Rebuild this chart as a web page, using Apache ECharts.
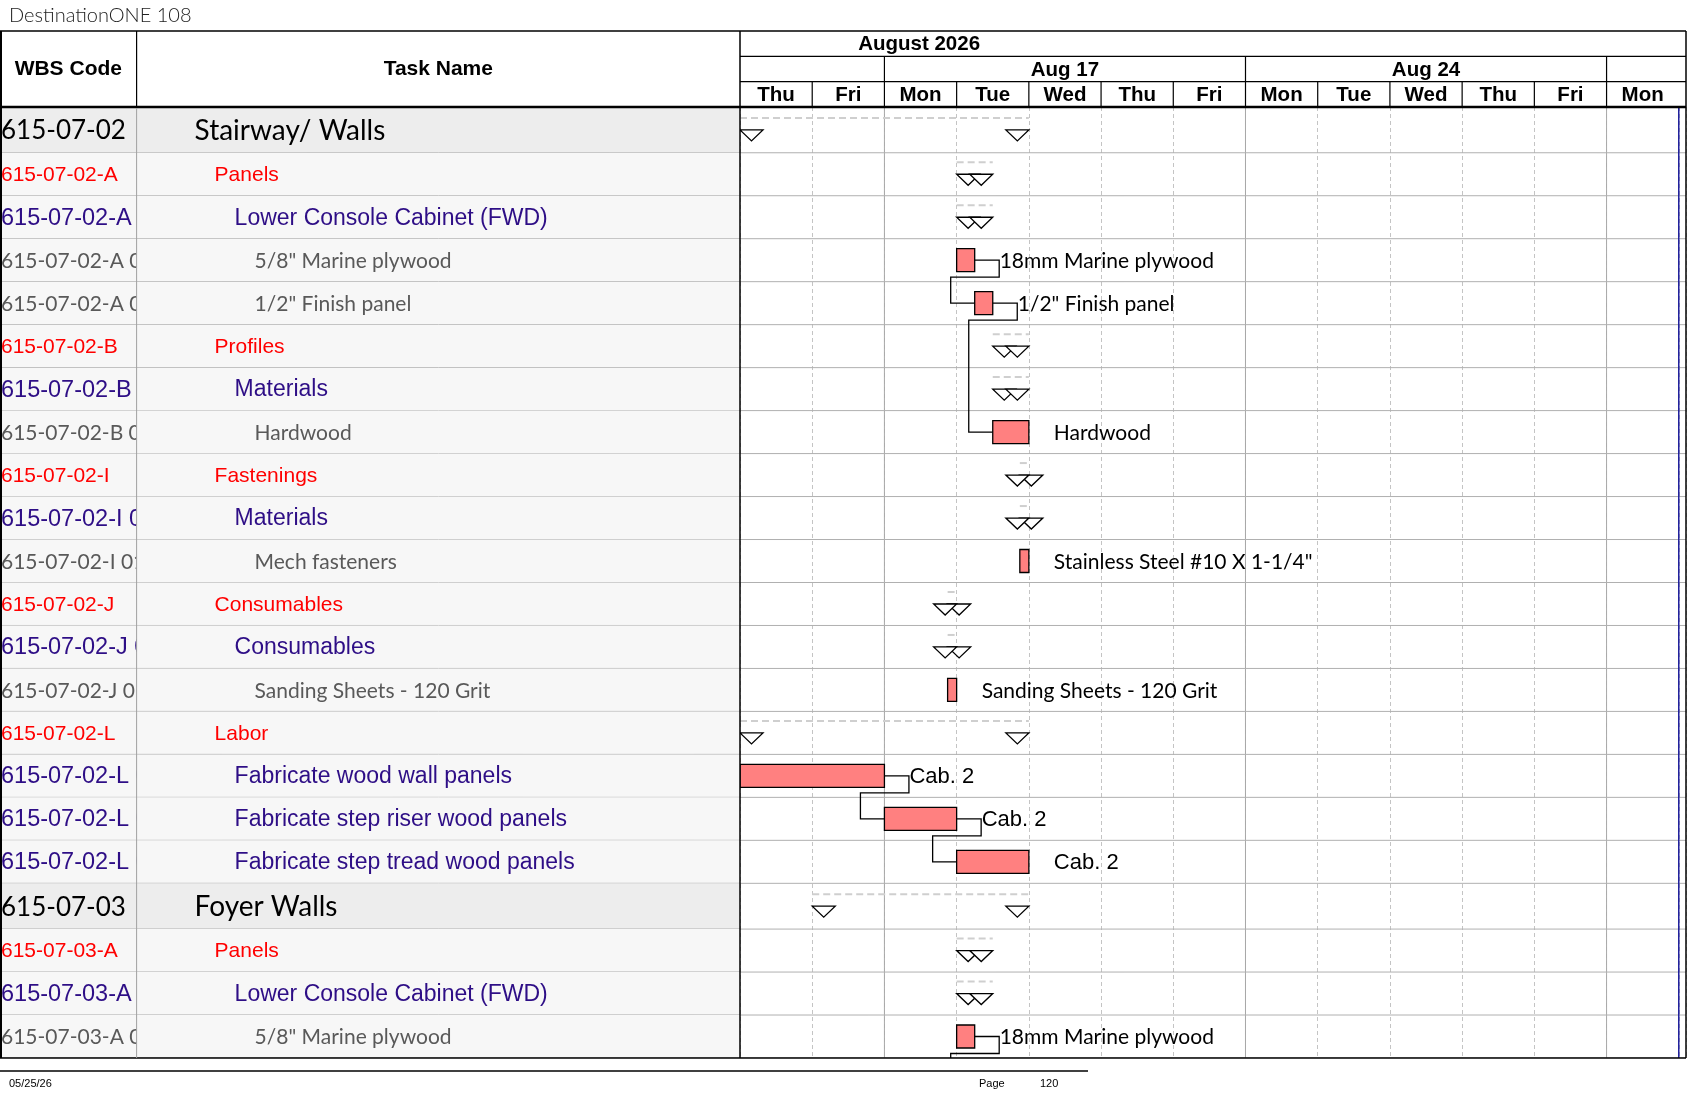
<!DOCTYPE html>
<html>
<head>
<meta charset="utf-8">
<title>DestinationONE 108</title>
<script src="https://cdn.jsdelivr.net/npm/echarts@6/dist/echarts.min.js"></script>
<style>
    html, body { margin: 0; padding: 0; background: #fff; }
    #chart { width: 1687px; height: 1097px; }
</style>
</head>
<body>
<div id="chart"></div>
<script>
//时间轴：只显示工作日，Thu Aug 13 2026 -> Mon Aug 31 2026
var dayNames = ['Thu', 'Fri', 'Mon', 'Tue', 'Wed', 'Thu', 'Fri', 'Mon', 'Tue', 'Wed', 'Thu', 'Fri', 'Mon'];
var weekStarts = [-3, 2, 7, 12];
var weekLabels = ['Aug 10', 'Aug 17', 'Aug 24', 'Aug 31'];
var monthLabel = 'August 2026';
var monthCenter = 2.48;
var lastDay = 13.1;
var statusDay = 13;

//任务行（最后一行属于下一页）
var wbsCodes = [
    '615-07-02', '615-07-02-A', '615-07-02-A 01', '615-07-02-A 01 01', '615-07-02-A 01 02',
    '615-07-02-B', '615-07-02-B 01', '615-07-02-B 01 01',
    '615-07-02-I', '615-07-02-I 01', '615-07-02-I 01 01',
    '615-07-02-J', '615-07-02-J 01', '615-07-02-J 01 01',
    '615-07-02-L', '615-07-02-L 01', '615-07-02-L 02', '615-07-02-L 03',
    '615-07-03', '615-07-03-A', '615-07-03-A 01', '615-07-03-A 01 01', '615-07-03-A 01 02'
];
var taskNames = [
    'Stairway/ Walls', 'Panels', 'Lower Console Cabinet (FWD)', '5/8" Marine plywood', '1/2" Finish panel',
    'Profiles', 'Materials', 'Hardwood',
    'Fastenings', 'Materials', 'Mech fasteners',
    'Consumables', 'Consumables', 'Sanding Sheets - 120 Grit',
    'Labor', 'Fabricate wood wall panels', 'Fabricate step riser wood panels', 'Fabricate step tread wood panels',
    'Foyer Walls', 'Panels', 'Lower Console Cabinet (FWD)', '5/8" Marine plywood', '1/2" Finish panel'
];
var levels = [0, 1, 2, 3, 3, 1, 2, 3, 1, 2, 3, 1, 2, 3, 1, 2, 2, 2, 0, 1, 2, 3, 3];
var isSummary = [1, 1, 1, 0, 0, 1, 1, 0, 1, 1, 0, 1, 1, 0, 1, 0, 0, 0, 1, 1, 1, 0, 0];
var starts = [0, 3, 3, 3, 3.25, 3.5, 3.5, 3.5, 3.875, 3.875, 3.875, 2.875, 2.875, 2.875, 0, 0, 2, 3, 1, 3, 3, 3, 3.25];
var finishes = [4, 3.5, 3.5, 3.25, 3.5, 4, 4, 4, 4, 4, 4, 3, 3, 3, 4, 2, 3, 4, 4, 3.5, 3.5, 3.25, 3.5];
var barLabels = ['', '', '', '18mm Marine plywood', '1/2" Finish panel', '', '', 'Hardwood', '', '', 'Stainless Steel #10 X 1-1/4"',
    '', '', 'Sanding Sheets - 120 Grit', '', 'Cab. 2', 'Cab. 2', 'Cab. 2', '', '', '', '18mm Marine plywood', '1/2" Finish panel'];
var links = [[3, 4], [4, 7], [15, 16], [16, 17], [21, 22]];
var pageRows = 22;

var ARIAL = '"Liberation Sans", Arial, sans-serif';
var CALIBRI = 'Lato, "Noto Sans", sans-serif';

//各级文字样式
var levelText = [
    {family: CALIBRI, size: 28, wbsSize: 26, color: '#000000'},
    {family: ARIAL, size: 21, wbsSize: 21, color: '#ff0000'},
    {family: ARIAL, size: 23, wbsSize: 23.5, color: '#2e0e86'},
    {family: CALIBRI, size: 21, wbsSize: 21, color: '#595959'}
];

var top0 = 31, headBottom = 107, bodyBottom = 1058, wbsRight = 136.6, chartLeft = 740, rightEdge = 1686;
var summaryRowScale = 1.065;   //摘要行略高

//行的纵向位置（以“行”为单位累加）
var rowTops = [0];
for (var r = 0; r < levels.length; r++) {
    rowTops.push(rowTops[r] + (levels[r] === 0 ? summaryRowScale : 1));
}
function rowMid(i) {
    return (rowTops[i] + rowTops[i + 1]) / 2;
}

window.onload = function () {
    var myChart = echarts.init(document.getElementById('chart'));
    myChart.setOption(buildOption());
};

function rowItems() {
    var a = [];
    for (var i = 0; i < pageRows; i++) {
        a.push([0, i]);
    }
    return a;
}

//表格单元格
function tableRender(col) {
    return function (params, api) {
        var row = api.value(1);
        var cs = params.coordSys;
        var y0 = api.coord([0, rowTops[row]])[1];
        var y1 = api.coord([0, rowTops[row + 1]])[1];
        var cy = (y0 + y1) / 2;
        var lv = levels[row];
        var st = levelText[lv];
        var x = col === 'wbs' ? cs.x + 1 : cs.x + 58 + lv * 20;
        return {
            type: 'group',
            children: [
                {type: 'rect', shape: {x: cs.x, y: y0, width: cs.width, height: y1 - y0},
                    style: {fill: lv === 0 ? '#ededed' : '#f7f7f7'}},
                {type: 'line', shape: {x1: cs.x, y1: y1, x2: cs.x + cs.width, y2: y1},
                    style: {stroke: '#a6a6a6', lineWidth: 1}},
                {type: 'text', x: x, y: cy + 1, style: {
                    text: col === 'wbs' ? wbsCodes[row] : taskNames[row],
                    fontFamily: st.family, fontSize: col === 'wbs' ? st.wbsSize : st.size, fill: st.color,
                    align: 'left', verticalAlign: 'middle'
                }}
            ]
        };
    };
}

//甘特条 / 摘要三角
function taskRender(params, api) {
    var row = api.value(2);
    var cs = params.coordSys;
    var s = api.coord([api.value(0), rowMid(row)]);
    var e = api.coord([api.value(1), rowMid(row)]);
    var yb = api.coord([0, rowTops[row + 1]])[1];
    var cy = s[1];
    var kids = [
        {type: 'line', shape: {x1: cs.x, y1: yb, x2: cs.x + cs.width, y2: yb},
            style: {stroke: '#b0b0b0', lineWidth: 1}}
    ];
    if (api.value(3)) {
        var tw = 23, th = 11;
        kids.push(
            {type: 'line', shape: {x1: s[0], y1: cy - 12, x2: e[0], y2: cy - 12},
                style: {stroke: '#cfcfcf', lineWidth: 2, lineDash: [7, 4]}},
            {type: 'polygon', shape: {points: [[s[0], cy], [s[0] + tw, cy], [s[0] + tw / 2, cy + th]]},
                style: {fill: '#fff', stroke: '#000', lineWidth: 1.3}},
            {type: 'polygon', shape: {points: [[e[0] - tw, cy], [e[0], cy], [e[0] - tw / 2, cy + th]]},
                style: {fill: '#fff', stroke: '#000', lineWidth: 1.3}}
        );
        return {type: 'group', children: kids};
    }
    var lv = levels[row];
    kids.push(
        {type: 'rect', shape: {x: s[0], y: cy - 11.5, width: e[0] - s[0], height: 23},
            style: {fill: '#ff8080', stroke: '#000', lineWidth: 1.3}},
        {type: 'text', x: e[0] + 25, y: cy + 1, style: {
            text: barLabels[row], fontFamily: lv === 2 ? ARIAL : CALIBRI, fontSize: lv === 2 ? 22 : 21,
            fill: '#000', align: 'left', verticalAlign: 'middle'
        }}
    );
    return {type: 'group', children: kids};
}

//前后置连线
function linkRender(params, api) {
    var f = api.value(0), t = api.value(1);
    var p = api.coord([finishes[f], rowMid(f)]);
    var q = api.coord([starts[t], rowMid(t)]);
    var xr = p[0] + 24.5, yd = p[1] + 17, xl = q[0] - 24;
    return {
        type: 'polyline',
        shape: {points: [[p[0], p[1]], [xr, p[1]], [xr, yd], [xl, yd], [xl, q[1]], [q[0], q[1]]]},
        style: {stroke: '#000', lineWidth: 1.3, fill: null}
    };
}

function vLineRender(color, width) {
    return function (params, api) {
        var cs = params.coordSys;
        var x = api.coord([api.value(0), 0])[0];
        return {type: 'line', shape: {x1: x, y1: cs.y, x2: x, y2: cs.y + cs.height},
            style: {stroke: color, lineWidth: width}};
    };
}

var headFont = {fontFamily: ARIAL, fontSize: 20.5, fontWeight: 'bold', fill: '#000', align: 'center', verticalAlign: 'middle'};
var tableHeadFont = Object.assign({}, headFont, {fontSize: 21});

function dayRender(params, api) {
    var i = api.value(0);
    var c = api.coord([i + 0.5, 2.5]);
    var a = api.coord([i, 2]);
    var b = api.coord([i, 3]);
    var kids = [{type: 'text', x: c[0], y: c[1] + 1, style: Object.assign({text: dayNames[i]}, headFont)}];
    if (i > 0) {
        kids.push({type: 'line', shape: {x1: a[0], y1: a[1], x2: b[0], y2: b[1]}, style: {stroke: '#000', lineWidth: 1.2}});
    }
    return {type: 'group', children: kids};
}

function weekRender(params, api) {
    var i = params.dataIndex;
    var s = weekStarts[i];
    var kids = [];
    if (s > 0 && s < lastDay) {
        var a = api.coord([s, 1]);
        var b = api.coord([s, 2]);
        kids.push({type: 'line', shape: {x1: a[0], y1: a[1], x2: b[0], y2: b[1]}, style: {stroke: '#000', lineWidth: 1.2}});
    }
    var mid = s + 2.5;
    if (mid > 0 && mid < lastDay) {
        var c = api.coord([mid, 1.5]);
        kids.push({type: 'text', x: c[0], y: c[1] + 1, style: Object.assign({text: weekLabels[i]}, headFont)});
    }
    return {type: 'group', children: kids};
}

function monthRender(params, api) {
    var cs = params.coordSys;
    var c = api.coord([monthCenter, 0.5]);
    var y1 = api.coord([0, 1])[1];
    var y2 = api.coord([0, 2])[1];
    return {
        type: 'group',
        children: [
            {type: 'text', x: c[0], y: c[1] + 1, style: Object.assign({text: monthLabel}, headFont)},
            {type: 'line', shape: {x1: cs.x, y1: y1, x2: cs.x + cs.width, y2: y1}, style: {stroke: '#000', lineWidth: 1.2}},
            {type: 'line', shape: {x1: cs.x, y1: y2, x2: cs.x + cs.width, y2: y2}, style: {stroke: '#000', lineWidth: 1.2}}
        ]
    };
}

function hLine(x1, x2, y, w, c) {
    return {type: 'line', z: 100, shape: {x1: x1, y1: y, x2: x2, y2: y}, style: {stroke: c || '#000', lineWidth: w}};
}

function vLine(x, y1, y2, w, c) {
    return {type: 'line', z: 100, shape: {x1: x, y1: y1, x2: x, y2: y2}, style: {stroke: c || '#000', lineWidth: w}};
}

function buildOption() {
    var bodyH = bodyBottom - headBottom;
    var taskData = [];
    for (var i = 0; i < pageRows; i++) {
        taskData.push([starts[i], finishes[i], i, isSummary[i]]);
    }
    var weekLineData = [];
    weekStarts.forEach(function (s) {
        if (s > 0 && s < lastDay) weekLineData.push([s, 0]);
    });
    var rowAxis = {type: 'value', min: 0, max: rowTops[pageRows], inverse: true, show: false};
    var footFont = '"Liberation Sans Narrow", ' + ARIAL;

    return {
        animation: false,
        backgroundColor: '#fff',
        grid: [
            {left: chartLeft, top: top0, width: rightEdge - chartLeft, height: headBottom - top0},
            {left: chartLeft, top: headBottom, width: rightEdge - chartLeft, height: bodyH},
            {left: 0, top: headBottom, width: wbsRight, height: bodyH},
            {left: wbsRight, top: headBottom, width: chartLeft - wbsRight, height: bodyH}
        ],
        xAxis: [
            {gridIndex: 0, type: 'value', min: 0, max: lastDay, show: false},
            {gridIndex: 1, type: 'value', min: 0, max: lastDay, interval: 1,
                axisLine: {show: false}, axisTick: {show: false}, axisLabel: {show: false},
                splitLine: {show: true, lineStyle: {color: '#c4c4c4', width: 1, type: [4, 3]}}},
            {gridIndex: 2, type: 'value', min: 0, max: 1, show: false},
            {gridIndex: 3, type: 'value', min: 0, max: 1, show: false}
        ],
        yAxis: [
            {gridIndex: 0, type: 'value', min: 0, max: 3, inverse: true, show: false},
            Object.assign({gridIndex: 1}, rowAxis),
            Object.assign({gridIndex: 2}, rowAxis),
            Object.assign({gridIndex: 3}, rowAxis)
        ],
        series: [
            {type: 'custom', name: 'weeks', xAxisIndex: 1, yAxisIndex: 1, z: 1, silent: true,
                renderItem: vLineRender('#a8a8a8', 1), data: weekLineData},
            {type: 'custom', name: 'status', xAxisIndex: 1, yAxisIndex: 1, z: 4, silent: true,
                renderItem: vLineRender('#1c1c9c', 1.5), data: [[statusDay, 0]]},
            {type: 'custom', name: 'links', xAxisIndex: 1, yAxisIndex: 1, z: 3, clip: true, silent: true,
                renderItem: linkRender, data: links},
            {type: 'custom', name: 'tasks', xAxisIndex: 1, yAxisIndex: 1, z: 2, clip: true, silent: true,
                renderItem: taskRender, data: taskData},
            {type: 'custom', name: 'days', xAxisIndex: 0, yAxisIndex: 0, silent: true,
                renderItem: dayRender, data: dayNames.map(function (d, i) { return [i, 2]; })},
            {type: 'custom', name: 'weekHead', xAxisIndex: 0, yAxisIndex: 0, silent: true,
                renderItem: weekRender, data: weekStarts.map(function (s) { return [s, 1]; })},
            {type: 'custom', name: 'month', xAxisIndex: 0, yAxisIndex: 0, silent: true,
                renderItem: monthRender, data: [[monthCenter, 0]]},
            {type: 'custom', name: 'wbs', xAxisIndex: 2, yAxisIndex: 2, clip: true, silent: true,
                renderItem: tableRender('wbs'), data: rowItems()},
            {type: 'custom', name: 'names', xAxisIndex: 3, yAxisIndex: 3, clip: true, silent: true,
                renderItem: tableRender('name'), data: rowItems()}
        ],
        graphic: [
            {type: 'text', x: 9, y: 16, style: {text: 'DestinationONE 108', fontFamily: CALIBRI, fontWeight: 300,
                fontSize: 20, fill: '#222', verticalAlign: 'middle'}},
            {type: 'text', x: wbsRight / 2, y: 69, style: Object.assign({text: 'WBS Code'}, tableHeadFont)},
            {type: 'text', x: (wbsRight + chartLeft) / 2, y: 69, style: Object.assign({text: 'Task Name'}, tableHeadFont)},
            hLine(0, rightEdge, top0, 1.5),
            hLine(0, rightEdge, headBottom, 2.5),
            hLine(0, rightEdge, bodyBottom, 1.5),
            vLine(1, top0, bodyBottom, 2),
            vLine(rightEdge, top0, bodyBottom, 1.5),
            vLine(wbsRight, top0, headBottom, 1.2),
            vLine(wbsRight, headBottom + 1, bodyBottom, 1, '#a0a0a0'),
            vLine(chartLeft, top0, bodyBottom, 1.5),
            hLine(0, 1088, 1071, 1.5),
            {type: 'text', x: 9, y: 1084, style: {text: '05/25/26', fontFamily: footFont,
                fontSize: 11, fill: '#000', verticalAlign: 'middle'}},
            {type: 'text', x: 979, y: 1084, style: {text: 'Page', fontFamily: footFont,
                fontSize: 11, fill: '#000', verticalAlign: 'middle'}},
            {type: 'text', x: 1040, y: 1084, style: {text: '120', fontFamily: footFont,
                fontSize: 11, fill: '#000', verticalAlign: 'middle'}}
        ]
    };
}
</script>
</body>
</html>
